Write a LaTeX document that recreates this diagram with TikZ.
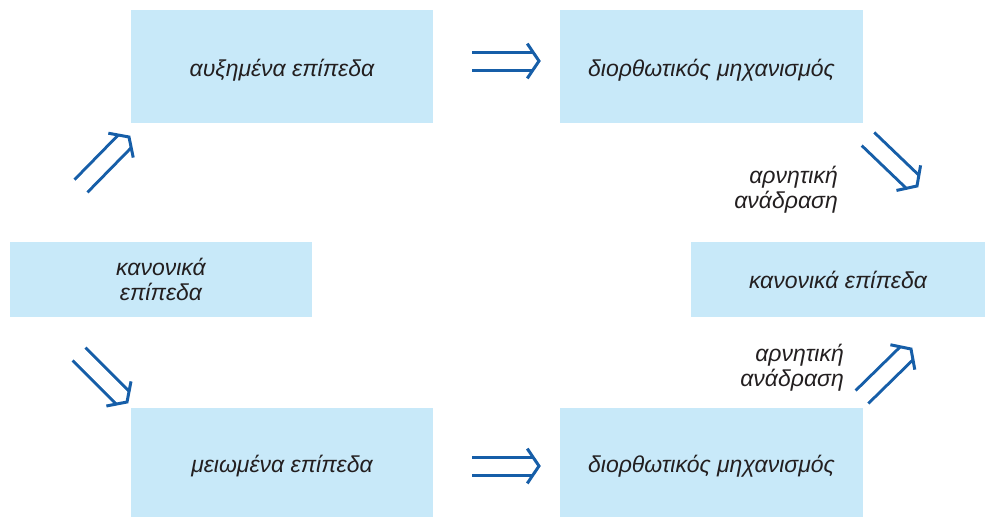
\documentclass[tikz,border=0pt]{standalone}
\usepackage{fontspec}
\setmainfont{Liberation Sans}
\usetikzlibrary{calc}
\definecolor{cajaazul}{RGB}{200,233,249}
\definecolor{flechaazul}{RGB}{22,94,168}
\definecolor{textogris}{RGB}{35,31,32}
\begin{document}
\begin{tikzpicture}[x=1pt, y=-1pt,
			every node/.style={font=\fontsize{23}{25}\selectfont\itshape, text=textogris},
			caja/.style={fill=cajaazul, inner sep=0pt, align=center},
			texto bajo/.style={text height=20pt, text depth=0pt},
			flecha/.style={draw=flechaazul, line width=21pt, shorten >=6pt,
				postaction={draw=white, line width=15pt, shorten <=-2pt, shorten >=4pt}},
			punta/.style={draw=flechaazul, line width=3pt, line join=miter},
			nota/.style={align=right, inner sep=0pt, anchor=east}]
		\useasboundingbox (0,0) rectangle (986,517);
		\node[caja, texto bajo, minimum width=302, minimum height=113] (alto)  at (282,66.5)  {αυξημένα επίπεδα};
		\node[caja, texto bajo, minimum width=303, minimum height=113] (corrA) at (711.5,66.5) {διορθωτικός μηχανισμός};
		\node[caja, minimum width=302, minimum height=75]  (normI) at (161,279.5) {κανονικά\\επίπεδα};
		\node[caja, minimum width=294, minimum height=75]  (normD) at (838,279.5) {κανονικά επίπεδα};
		\node[caja, texto bajo, minimum width=302, minimum height=109] (bajo)  at (282,462.5) {μειωμένα επίπεδα};
		\node[caja, texto bajo, minimum width=303, minimum height=109] (corrB) at (711.5,462.5) {διορθωτικός μηχανισμός};
		\node[nota] (fbA) at (838,190) {αρνητική\\ανάδραση};
		\node[nota] (fbB) at (844,368) {αρνητική\\ανάδραση};
		% extremos de las flechas
		\coordinate (s1) at (81,186);   \coordinate (e1) at (129,137);
		\coordinate (s2) at (472,61);   \coordinate (e2) at (539,61);
		\coordinate (s3) at (868,139);  \coordinate (e3) at (917,186);
		\coordinate (s4) at (79,354);   \coordinate (e4) at (127,402);
		\coordinate (s5) at (472,466);  \coordinate (e5) at (539,466);
		\coordinate (s6) at (862,397);  \coordinate (e6) at (911,349);
		\foreach \i in {1,...,6} {
			\draw[flecha] (s\i) -- (e\i);
			\draw[punta] ($(e\i)!21pt!56:(s\i)$) -- (e\i) -- ($(e\i)!21pt!-56:(s\i)$);
		}
	\end{tikzpicture}
\end{document}
